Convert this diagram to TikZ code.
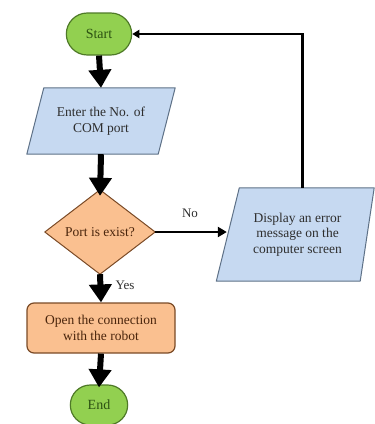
\documentclass[tikz,border=0pt]{standalone}
\usepackage{fontspec}
\setmainfont{Liberation Serif}
\usetikzlibrary{arrows.meta,shapes.misc,calc}

\definecolor{termfill}{HTML}{92D050}
\definecolor{termline}{HTML}{4F7A28}
\definecolor{termtext}{HTML}{2C5212}
\definecolor{iofill}{HTML}{C6D9F1}
\definecolor{ioline}{HTML}{5E7187}
\definecolor{iotext}{HTML}{2E2E2E}
\definecolor{procfill}{HTML}{FAC090}
\definecolor{procline}{HTML}{7A4A26}
\definecolor{proctext}{HTML}{4A250C}

\tikzset{
  term/.style={rounded rectangle, draw=termline, fill=termfill, line width=1.2pt,
    text=termtext, font=\fontsize{14}{16}\selectfont},
  boxtext/.style={rectangle, inner sep=0pt, align=center,
    font=\fontsize{13.5}{15.5}\selectfont},
  ioshape/.style={draw=ioline, fill=iofill, line width=1pt, line join=round},
  decshape/.style={draw=procline, fill=procfill, line width=1pt, line join=round},
  procbox/.style={rectangle, rounded corners=7pt, draw=procline, fill=procfill,
    line width=1.2pt, align=center, text=proctext, font=\fontsize{13.5}{15.5}\selectfont},
  flow/.style={line width=6pt, -{Triangle[width=22pt,length=18pt]}},
  back/.style={line width=2.2pt, -{Triangle[width=8pt,length=7pt]}},
  note/.style={font=\fontsize{13}{15}\selectfont, text=iotext}
}

\begin{document}
\begin{tikzpicture}[x=1pt,y=-1pt]
\useasboundingbox (0,0) rectangle (375,424);

% terminals
\node[term, minimum width=72pt, minimum height=42pt] (start) at (99,34) {Start};
\node[term, minimum width=64pt, minimum height=40pt] (end) at (99,405) {End};

% input: enter COM port number
\node[boxtext, minimum width=148pt, minimum height=66pt] (enter) at (101,121) {};
\draw[ioshape] ($(enter.north west)+(17,0)$) -- (enter.north east)
  -- ($(enter.south east)+(-17,0)$) -- (enter.south west) -- cycle;
\node[boxtext, text=iotext] at (enter) {Enter the No. of\\COM port};

% decision
\node[boxtext, minimum width=110pt, minimum height=84pt] (port) at (100,232) {};
\draw[decshape] (port.north) -- (port.east) -- (port.south) -- (port.west) -- cycle;
\node[boxtext, text=proctext] at (port) {Port is exist?};

% output: error message
\node[boxtext, minimum width=139pt, minimum height=93pt] (disp) at (297.5,234.5) {};
\draw[ioshape] ($(disp.north west)+(11.5,0)$) -- ($(disp.north east)+(7,0)$)
  -- ($(disp.south east)+(-7,0)$) -- ($(disp.south west)+(-11.5,0)$) -- cycle;
\node[boxtext, text=iotext] at (disp) {Display an error\\message on the\\computer screen};

% process
\node[procbox, minimum width=148pt, minimum height=50pt] (open) at (101,328)
  {Open the connection\\with the robot};

% connectors
\draw[flow] (start.south) -- (enter.north);
\draw[flow] (enter.south) -- ([yshift=-6pt]port.north);
\draw[flow] (port.south) -- (open.north);
\draw[flow] (open.south) -- ([yshift=-3pt]end.north);
\draw[line width=2.2pt, -{Triangle[width=10pt,length=9pt]}]
  (port.east) -- ([xshift=-1pt]port.east -| disp.west);
\draw[back] ([xshift=5pt]disp.north) |- (start.east);

% branch labels
\node[note] (nolab) at (190,213) {No};
\node[note] (yeslab) at (125,285) {Yes};
\end{tikzpicture}
\end{document}
